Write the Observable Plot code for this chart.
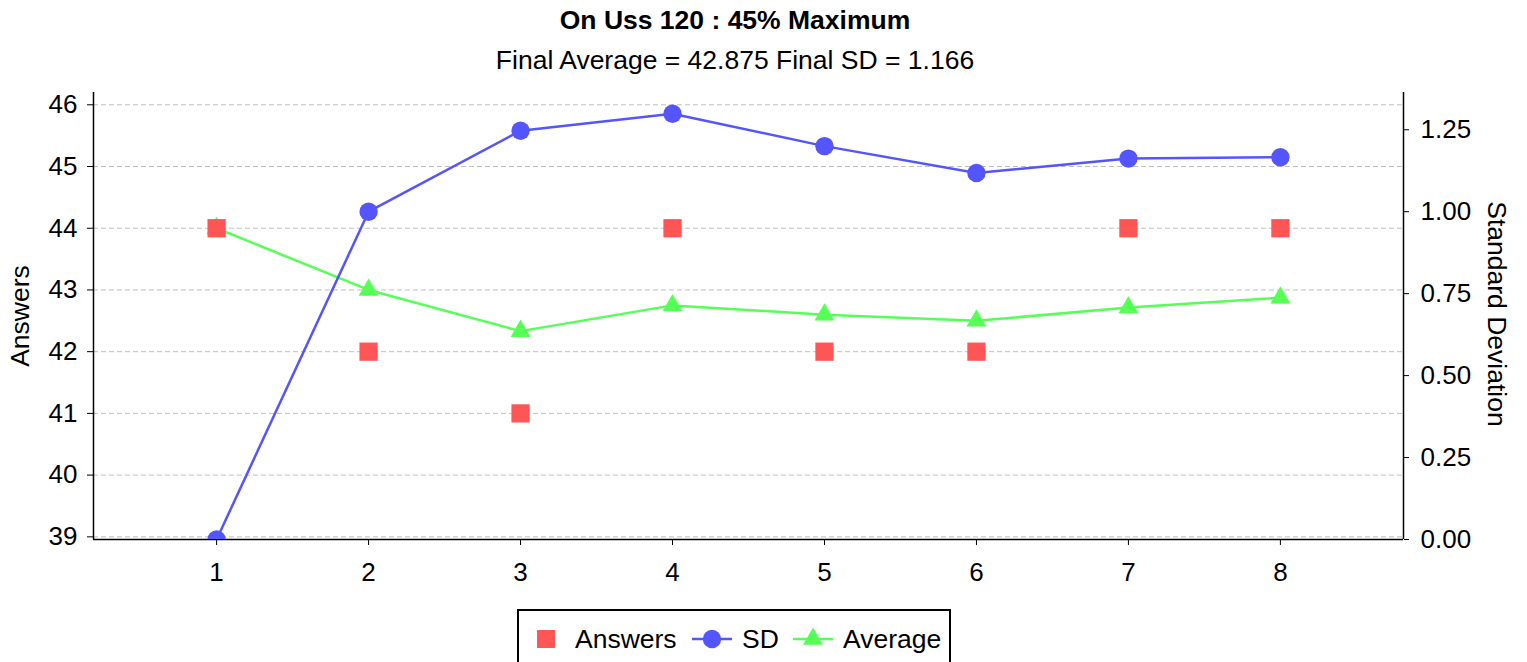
<!DOCTYPE html>
<html>
<head>
<meta charset="utf-8">
<script src="https://cdn.jsdelivr.net/npm/d3@7"></script>
<script src="https://cdn.jsdelivr.net/npm/@observablehq/plot@0.6"></script>
<style>
  html, body { margin: 0; padding: 0; background: #fff; }
  body { width: 1527px; height: 662px; position: relative; overflow: hidden; font-family: "Liberation Sans", Arial, sans-serif; color: #000; }
  .abs { position: absolute; white-space: nowrap; line-height: 30px; }
  #title { left: 0; width: 1470px; top: 5px; text-align: center; font-weight: bold; font-size: 26.5px; }
  #subtitle { left: 0; width: 1470px; top: 45px; text-align: center; font-size: 26.5px; }
  #plot { left: 0; top: 80px; line-height: normal; }
  .ylab { font-size: 26.5px; }
  #legend { left: 517px; top: 609px; width: 430px; height: 60px; border: 2px solid #000; background: #fff; }
  #legend svg { position: absolute; left: 0; top: 0; }
</style>
</head>
<body>
<div id="title" class="abs">On Uss 120 : 45% Maximum</div>
<div id="subtitle" class="abs">Final Average = 42.875 Final SD = 1.166</div>
<div id="plot" class="abs"></div>
<div class="abs ylab" id="ylabL">Answers</div>
<div class="abs ylab" id="ylabR">Standard Deviation</div>
<div id="legend" class="abs"></div>
<script>
// ---- data ----
const rounds = [1, 2, 3, 4, 5, 6, 7, 8];
const answers = [44, 42, 41, 44, 42, 42, 44, 44];
const average = [44, 43, 42.333, 42.75, 42.6, 42.5, 42.714, 42.875];
const sd = [0, 1.0, 1.247, 1.299, 1.2, 1.118, 1.162, 1.166];
const leftTicks = [39, 40, 41, 42, 43, 44, 45, 46];
const rightTicks = [0, 0.25, 0.5, 0.75, 1.0, 1.25];
const xTicks = [1, 2, 3, 4, 5, 6, 7, 8];
const seriesNames = ["Answers", "SD", "Average"];
const seriesColors = ["#FF5555", "#5555FF", "#55FF55"];

// ---- scales ----
const yDomain = [38.957, 46.199];
const sdDomain = [0, 1.3636];
const sdToY = d3.scaleLinear().domain(sdDomain).range(yDomain);
const xDomain = [0.19, 8.81];

const rowsAns = rounds.map((r, i) => ({x: r, y: answers[i]}));
const rowsAvg = rounds.map((r, i) => ({x: r, y: average[i]}));
const rowsSd = rounds.map((r, i) => ({x: r, y: sdToY(sd[i])}));

const FS = 26;
const W = 1527, H = 520;
const chart = Plot.plot({
  width: W,
  height: H,
  marginLeft: 93,
  marginRight: 124,
  marginTop: 12,
  marginBottom: 61,
  style: {fontFamily: "Liberation Sans, Arial, sans-serif", fontSize: FS + "px", color: "#000", background: "#fff", overflow: "visible"},
  x: {domain: xDomain, label: null},
  y: {domain: yDomain, label: null},
  marks: [
    Plot.gridY(leftTicks, {stroke: "#c0c0c0", strokeOpacity: 1, strokeDasharray: "5,3", strokeWidth: 1}),
    Plot.axisY(leftTicks, {anchor: "left", tickSize: 6, tickPadding: 10, label: null, fontSize: FS, tickFormat: d => String(d)}),
    Plot.axisY(rightTicks.map(v => sdToY(v)), {anchor: "right", tickSize: 5, tickPadding: 12, label: null, fontSize: FS,
      tickFormat: d => sdToY.invert(d).toFixed(2)}),
    Plot.axisX(xTicks, {anchor: "bottom", tickSize: 6, tickPadding: 17, label: null, fontSize: FS, tickFormat: d => String(d)}),
    Plot.ruleX([xDomain[0]], {stroke: "#000", strokeWidth: 1.5}),
    Plot.ruleX([xDomain[1]], {stroke: "#000", strokeWidth: 1.5}),
    Plot.ruleY([yDomain[0]], {stroke: "#000", strokeWidth: 1.5}),
    Plot.line(rowsAvg, {x: "x", y: "y", stroke: seriesColors[2], strokeWidth: 2.5, clip: true}),
    Plot.dot(rowsAvg, {x: "x", y: "y", symbol: "triangle", r: 7.4, fill: seriesColors[2], stroke: "none", clip: true}),
    Plot.line(rowsSd, {x: "x", y: "y", stroke: seriesColors[1], strokeWidth: 2.5, clip: true}),
    Plot.dot(rowsSd, {x: "x", y: "y", symbol: "circle", r: 9.2, fill: seriesColors[1], stroke: "none", clip: true}),
    Plot.dot(rowsAns, {x: "x", y: "y", symbol: "square", r: 10.3, fill: seriesColors[0], stroke: "none", clip: true})
  ]
});
document.getElementById("plot").appendChild(chart);

// rotated axis labels
const plotCenterY = 80 + 12 + (H - 12 - 61) / 2;
const l = document.getElementById("ylabL");
l.style.left = "20px"; l.style.top = plotCenterY + "px";
l.style.transform = "translate(-50%, -50%) rotate(-90deg)";
const r = document.getElementById("ylabR");
r.style.left = "1497px"; r.style.top = (plotCenterY - 2) + "px";
r.style.transform = "translate(-50%, -50%) rotate(90deg)";

// legend
const lg = d3.select("#legend").append("svg").attr("width", 430).attr("height", 60)
  .style("font-family", "Liberation Sans, Arial, sans-serif").style("font-size", "26.5px");
const cy = 28;
const ox = 519;
const legendPos = [
  {lineX1: null, symX: 546 - ox, textX: 575 - ox},
  {lineX1: 692 - ox, lineX2: 732 - ox, symX: 712 - ox, textX: 742 - ox},
  {lineX1: 793 - ox, lineX2: 833 - ox, symX: 813 - ox, textX: 843 - ox}
];
const symTypes = [d3.symbolSquare, d3.symbolCircle, d3.symbolTriangle];
const symSizes = [18 * 18, Math.PI * 9.2 * 9.2, Math.PI * 7.4 * 7.4];
seriesNames.forEach((name, i) => {
  const p = legendPos[i];
  if (p.lineX1 != null) {
    lg.append("line").attr("x1", p.lineX1).attr("x2", p.lineX2).attr("y1", cy).attr("y2", cy)
      .attr("stroke", seriesColors[i]).attr("stroke-width", 2.5);
  }
  lg.append("path").attr("d", d3.symbol(symTypes[i], symSizes[i])())
    .attr("transform", `translate(${p.symX},${cy})`).attr("fill", seriesColors[i]);
  lg.append("text").attr("x", p.textX).attr("y", cy).attr("dy", "0.35em").text(name);
});
</script>
</body>
</html>
